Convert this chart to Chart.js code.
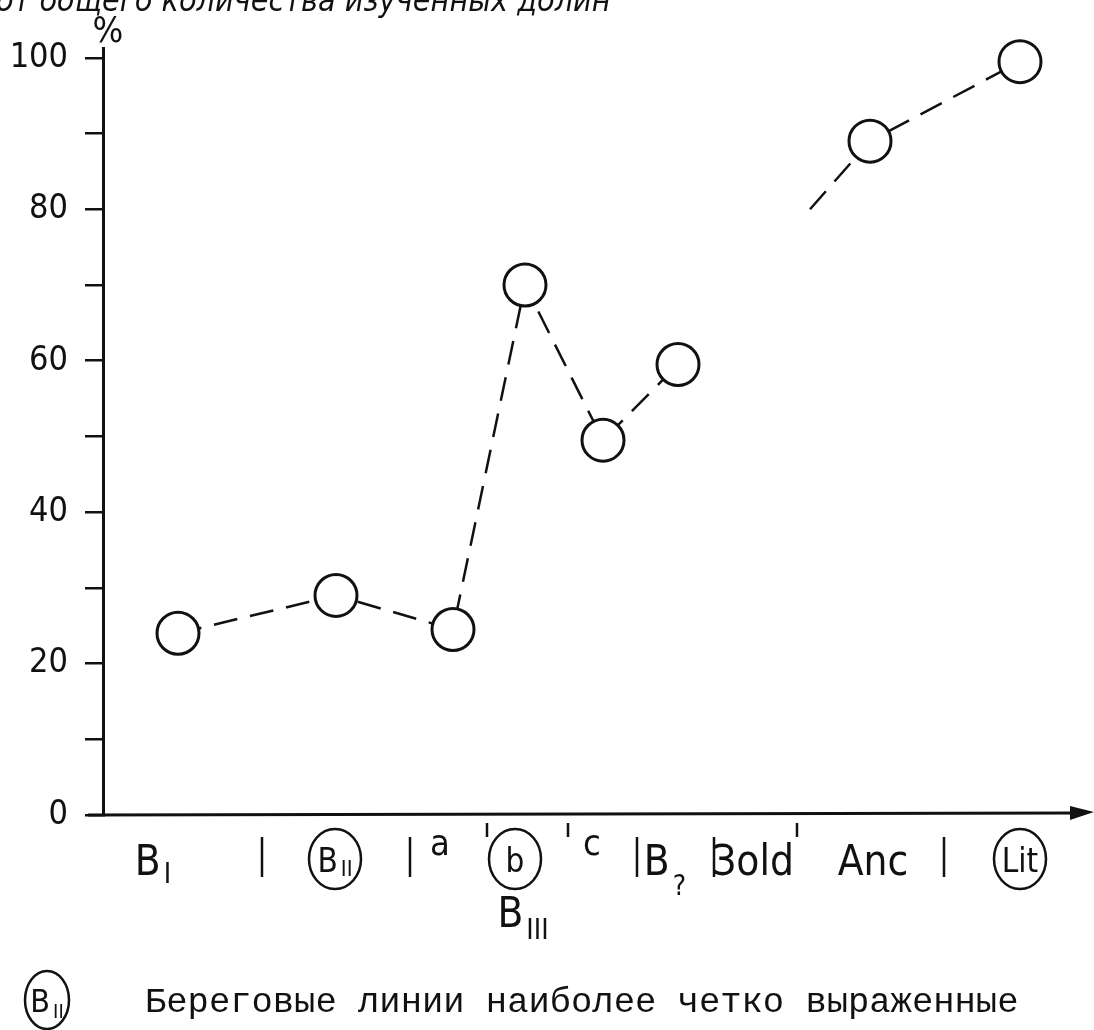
<!DOCTYPE html>
<html>
<head>
<meta charset="utf-8">
<script src="https://cdn.jsdelivr.net/npm/chart.js@4"></script>
<style>
  html, body { margin: 0; padding: 0; background: #fff; }
  #wrap { width: 1094px; height: 1030px; }
</style>
</head>
<body>
<div id="wrap"><canvas id="myChart"></canvas></div>
<script>
// share of valleys (%) per shoreline group, x in axis units along the group scale
const lowerX = [0.75, 2.33, 3.5, 4.22, 5.0, 5.75];
const lowerY = [24, 29, 24.5, 70, 49.5, 59.5];
const upperX = [7.07, 7.67, 9.17];
const upperY = [80, 89, 99.5];

const yLabels = [0, 20, 40, 60, 80, 100];

const catNames = ['B', 'B', 'a', 'b', 'c', 'B', 'Зold', 'Anc', 'Lit'];
const catSubs = ['I', 'II', '', '', '', '?', '', '', ''];
const catX = [0.5, 2.32, 3.37, 4.12, 4.89, 5.62, 6.5, 7.7, 9.17];
const catCircled = [false, true, false, true, false, false, false, false, true];
const majorBounds = [1.59, 3.07, 5.34, 6.11, 8.41];
const minorBounds = [3.84, 4.65, 6.94];
const groupName = 'B';
const groupSub = 'III';
const groupX = 4.2;

const titleText = 'от общего количества изученных долин';
const legendText = 'Береговые линии наиболее четко выраженные';

const HAND = "'DejaVu Sans Condensed', 'DejaVu Sans', sans-serif";

const drawWithSub = (ctx, main, sub, cx, base, size, subSize, subDrop) => {
  ctx.font = `${size}px ${HAND}`;
  let w1 = ctx.measureText(main).width;
  ctx.font = `${subSize}px ${HAND}`;
  let w2 = sub ? ctx.measureText(sub).width + 3 : 0;
  let x0 = cx - (w1 + w2) / 2;
  ctx.textAlign = 'left';
  ctx.textBaseline = 'alphabetic';
  ctx.font = `${size}px ${HAND}`;
  ctx.fillText(main, x0, base);
  if (sub) {
    ctx.font = `${subSize}px ${HAND}`;
    ctx.fillText(sub, x0 + w1 + 3, base + subDrop);
  }
  return w1 + w2;
};

const sketchPlugin = {
  id: 'sketch',
  afterDraw(chart) {
    const ctx = chart.ctx;
    const xs = chart.scales.x;
    const ys = chart.scales.y;
    const y0 = ys.getPixelForValue(0);
    ctx.save();
    ctx.fillStyle = '#111';
    ctx.strokeStyle = '#111';

    // x axis with arrow
    ctx.lineWidth = 3;
    ctx.beginPath();
    ctx.moveTo(88, y0);
    ctx.lineTo(1078, y0 - 2);
    ctx.stroke();
    ctx.beginPath();
    ctx.moveTo(1070, y0 - 9);
    ctx.lineTo(1094, y0 - 3);
    ctx.lineTo(1070, y0 + 5);
    ctx.closePath();
    ctx.fill();

    // group separators
    ctx.lineWidth = 2.5;
    majorBounds.forEach(b => {
      let px = xs.getPixelForValue(b);
      ctx.beginPath();
      ctx.moveTo(px, y0 + 22);
      ctx.lineTo(px, y0 + 62);
      ctx.stroke();
    });
    minorBounds.forEach(b => {
      let px = xs.getPixelForValue(b);
      ctx.beginPath();
      ctx.moveTo(px, y0 + 8);
      ctx.lineTo(px, y0 + 22);
      ctx.stroke();
    });

    // category labels
    catNames.forEach((name, i) => {
      let cx = xs.getPixelForValue(catX[i]);
      if (catCircled[i]) {
        let w = drawWithSub(ctx, name, catSubs[i], cx, y0 + 57, 33, 22, 4);
        ctx.lineWidth = 2.5;
        ctx.beginPath();
        ctx.ellipse(cx, y0 + 44, Math.max(w / 2 + 7, 26), 30, 0, 0, Math.PI * 2);
        ctx.stroke();
      } else if (name === 'a' || name === 'c') {
        drawWithSub(ctx, name, '', cx, y0 + 40, 36, 20, 0);
      } else if (catSubs[i] === '?') {
        drawWithSub(ctx, name, catSubs[i], cx, y0 + 60, 42, 28, 20);
      } else {
        drawWithSub(ctx, name, catSubs[i], cx, y0 + 60, 42, 28, 8);
      }
    });
    drawWithSub(ctx, groupName, groupSub, xs.getPixelForValue(groupX), y0 + 112, 42, 28, 12);

    // percent sign above y axis
    ctx.font = `36px ${HAND}`;
    ctx.textAlign = 'center';
    ctx.fillText('%', 108, 42);

    // title, cut off by the top edge
    ctx.font = `italic 32px ${HAND}`;
    ctx.textAlign = 'left';
    ctx.fillText(titleText, -4, 11);

    // legend
    ctx.lineWidth = 2.5;
    ctx.beginPath();
    ctx.ellipse(47, 1000, 22, 29, 0, 0, Math.PI * 2);
    ctx.stroke();
    drawWithSub(ctx, 'B', 'II', 47, 1012, 32, 20, 6);
    ctx.font = "35.5px 'Liberation Mono', 'DejaVu Sans Mono', monospace";
    ctx.textAlign = 'left';
    ctx.fillText(legendText, 145, 1012);
    ctx.restore();
  }
};

const pts = (xv, yv) => xv.map((x, i) => ({x: x, y: yv[i]}));

const lineStyle = {
  borderColor: '#111',
  borderWidth: 2.5,
  borderDash: [24, 13],
  pointBorderColor: '#111',
  pointBackgroundColor: '#fff',
  pointBorderWidth: 3,
  tension: 0,
  clip: false
};

let ctx = document.getElementById('myChart').getContext('2d');
let chart = new Chart(ctx, {
  type: 'line',
  data: {
    datasets: [
      Object.assign({data: pts(lowerX, lowerY), pointRadius: 21}, lineStyle),
      Object.assign({data: pts(upperX, upperY), pointRadius: [0, 21, 21]}, lineStyle)
    ]
  },
  options: {
    responsive: true,
    maintainAspectRatio: false,
    animation: false,
    layout: {padding: {left: 0, right: 0, top: 48, bottom: 215}},
    plugins: {legend: {display: false}, tooltip: {enabled: false}},
    scales: {
      x: {type: 'linear', min: 0, max: 9.67, display: false},
      y: {
        min: 0,
        max: 101.3,
        afterFit: s => { s.width = 103; },
        ticks: {
          stepSize: 10,
          includeBounds: false,
          autoSkip: false,
          padding: 17,
          color: '#111',
          font: {family: HAND, size: 34},
          callback: v => yLabels.includes(v) ? v : ''
        },
        grid: {drawOnChartArea: false, tickLength: 18, color: '#111', lineWidth: 2.5},
        border: {color: '#111', width: 3}
      }
    }
  },
  plugins: [sketchPlugin]
});
</script>
</body>
</html>
